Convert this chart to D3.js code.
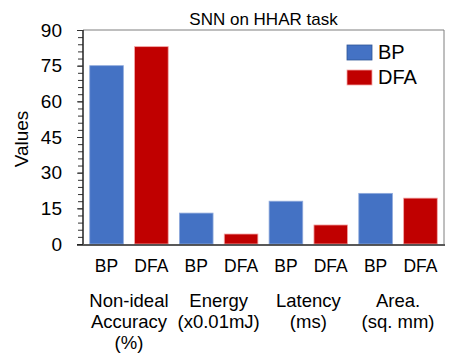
<!DOCTYPE html>
<html>
<head>
<meta charset="utf-8">
<script src="https://cdn.jsdelivr.net/npm/d3@7"></script>
<style>
  body { margin: 0; background: #fff; }
  text { font-family: Arial, "Liberation Sans", sans-serif; fill: #000; }
</style>
</head>
<body>
<div class="chart"></div>
<script>
// data
var groups = [["Non-ideal", "Accuracy", "(%)"], ["Energy", "(x0.01mJ)"], ["Latency", "(ms)"], ["Area.", "(sq. mm)"]];
var methods = ["BP", "DFA"];
var bpValues = [75, 13, 18, 21.3];
var dfaValues = [83, 4.2, 8, 19.3];
var yTicks = [0, 15, 30, 45, 60, 75, 90];

var colors = { BP: "#4472C4", DFA: "#C00000" };
var edges = { BP: "#8FAADC", DFA: "#F4A6A6" };

var width = 457, height = 360,
    plotL = 83, plotR = 444, plotT = 30, plotB = 244;

var bars = [];
groups.forEach(function(g, i) {
    bars.push({ key: "b" + i, method: "BP", value: bpValues[i], group: i });
    bars.push({ key: "d" + i, method: "DFA", value: dfaValues[i], group: i });
});

var x = d3.scaleBand()
    .domain(bars.map(function(d) { return d.key; }))
    .range([plotL, plotR])
    .paddingInner(0.25)
    .paddingOuter(0.15);

var y = d3.scaleLinear().domain([0, 90]).range([plotB, plotT]);

var svg = d3.select(".chart").append("svg")
    .attr("width", width)
    .attr("height", height);

// frame on top and right
svg.append("path")
    .attr("d", "M" + plotL + "," + plotT + "H" + plotR + "V" + plotB)
    .attr("fill", "none")
    .attr("stroke", "#7f7f7f")
    .attr("stroke-width", 1);

// bars
svg.selectAll("rect.bar")
    .data(bars)
    .enter().append("rect")
    .attr("class", "bar")
    .attr("x", function(d) { return x(d.key); })
    .attr("y", function(d) { return y(d.value); })
    .attr("width", x.bandwidth())
    .attr("height", function(d) { return y(0) - y(d.value); })
    .attr("fill", function(d) { return colors[d.method]; })
    .attr("stroke", function(d) { return edges[d.method]; })
    .attr("stroke-width", 0.8);

// y axis with minor ticks
var minor = d3.range(0, 91, 3);
var yMinor = svg.append("g")
    .attr("transform", "translate(" + plotL + ",0)")
    .call(d3.axisLeft(y).tickValues(minor).tickSize(5).tickFormat(""));
yMinor.select(".domain").remove();
yMinor.selectAll("line").attr("stroke", "#333");

var yAxis = svg.append("g")
    .attr("transform", "translate(" + plotL + ",0)")
    .call(d3.axisLeft(y).tickValues(yTicks).tickSize(6).tickPadding(15));
yAxis.select(".domain").attr("stroke", "#222").attr("stroke-width", 1.5)
    .attr("d", "M0," + plotT + "V" + plotB);
yAxis.selectAll("line").attr("stroke", "#333");
yAxis.selectAll("text").style("font-size", "19px").attr("fill", "#000");

// x axis line
svg.append("line")
    .attr("x1", plotL - 6).attr("x2", plotR + 1)
    .attr("y1", plotB + 1).attr("y2", plotB + 1)
    .attr("stroke", "#222")
    .attr("stroke-width", 1.5);

// method labels under bars
svg.selectAll("text.method")
    .data(bars)
    .enter().append("text")
    .attr("class", "method")
    .attr("x", function(d) { return x(d.key) + x.bandwidth() / 2; })
    .attr("y", 272)
    .attr("text-anchor", "middle")
    .style("font-size", "17.5px")
    .text(function(d) { return d.method; });

// group labels
var groupLabels = svg.selectAll("text.group")
    .data(groups)
    .enter().append("text")
    .attr("class", "group")
    .attr("text-anchor", "middle")
    .attr("transform", function(d, i) {
        var cx = (x("b" + i) + x("d" + i) + x.bandwidth()) / 2;
        return "translate(" + cx + ",306.5)";
    })
    .style("font-size", "18.5px");
groupLabels.selectAll("tspan")
    .data(function(d) { return d; })
    .enter().append("tspan")
    .attr("x", 0)
    .attr("dy", function(d, i) { return i === 0 ? 0 : 21; })
    .text(String);

// title
svg.append("text")
    .attr("x", (plotL + plotR) / 2)
    .attr("y", 25)
    .attr("text-anchor", "middle")
    .style("font-size", "17px")
    .text("SNN on HHAR task");

// y title
svg.append("text")
    .attr("transform", "translate(28,139) rotate(-90)")
    .attr("text-anchor", "middle")
    .style("font-size", "19px")
    .text("Values");

// legend
var legend = svg.selectAll("g.legend")
    .data(methods)
    .enter().append("g")
    .attr("class", "legend")
    .attr("transform", function(d, i) { return "translate(347," + (45 + i * 25) + ")"; });
legend.append("rect")
    .attr("width", 25)
    .attr("height", 15)
    .attr("fill", function(d) { return colors[d]; })
    .attr("stroke", function(d) { return d === "BP" ? "#2F5597" : "#F4A6A6"; })
    .attr("stroke-width", 0.8);
legend.append("text")
    .attr("x", 31)
    .attr("y", 14)
    .style("font-size", "20px")
    .text(String);
</script>
</body>
</html>
